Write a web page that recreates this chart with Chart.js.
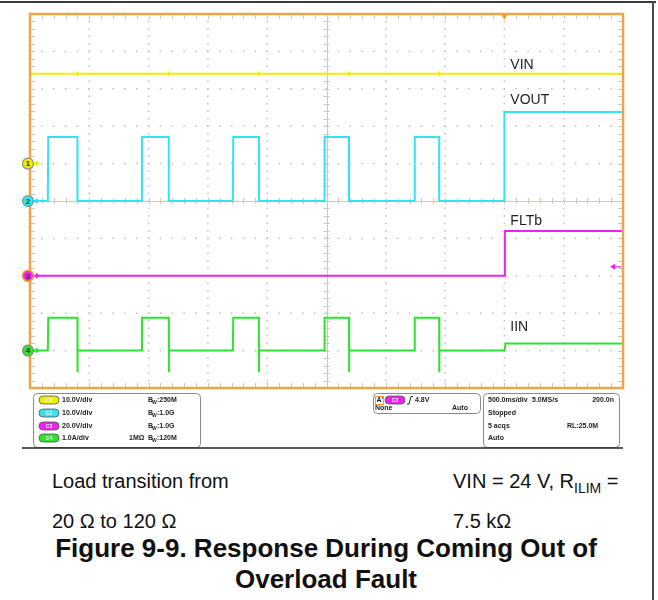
<!DOCTYPE html>
<html>
<head>
<meta charset="utf-8">
<title>Response During Coming Out of Overload Fault</title>
<script src="https://cdn.jsdelivr.net/npm/chart.js@4.4.0/dist/chart.umd.min.js"></script>
<style>
    body { margin: 0; background: #fff; font-family: "Liberation Sans", Arial, sans-serif; }
    #page { position: relative; width: 658px; height: 600px; overflow: hidden; }
    #scopeWrap { position: absolute; left: 0; top: 0; width: 658px; height: 452px; }
    #topLine { position: absolute; left: 0; top: 1px; width: 656px; height: 2px; background: #3a3a3a; }
    #rightLine { position: absolute; left: 652px; top: 1px; width: 2px; height: 599px; background: #4a4a4a; }
    .note { position: absolute; font-size: 20px; line-height: 24px; color: #111; white-space: nowrap; }
    .note sub { font-size: 14px; vertical-align: -5px; line-height: 0; }
    .title { position: absolute; left: 0; width: 652px; text-align: center; font-weight: bold;
             font-size: 26px; line-height: 31px; color: #111; }
</style>
</head>
<body>
<div id="page">
    <div id="scopeWrap"><canvas id="scopeChart"></canvas></div>
    <div id="topLine"></div>
    <div id="rightLine"></div>
    <div class="note" style="left:52px; top:469px;">Load transition from</div>
    <div class="note" style="left:52px; top:509px;">20 Ω to 120 Ω</div>
    <div class="note" style="left:453px; top:469px;">VIN = 24 V, R<sub>ILIM</sub> =</div>
    <div class="note" style="left:453px; top:509px;">7.5 kΩ</div>
    <div class="title" style="top:533px;">Figure 9-9. Response During Coming Out of<br>Overload Fault</div>
</div>
<script>
// Time axis: seconds relative to the trigger, 500 ms/div over 10 divisions
const timeRange = [-4.0, 1.0];
const timePerDiv = 0.5;

// Hiccup pulses while the output is still overloaded, then recovery at t = 0
const pulseRise = [-3.85, -3.06, -2.29, -1.52, -0.76];
const pulseFall = [-3.60, -2.83, -2.07, -1.31, -0.55];
const recoveryTime = 0.0;

// Levels in channel units
const vinLevel = [24.0, 0.6];            // V: steady, glitch size at each turn-off
const voutLevel = [0, 17.1, 23.8];       // V: off, during pulse, recovered
const fltLevel = [0, 24.0];              // V: fault asserted, released
const iinLevel = [0, 0.88, 0.19, -0.58]; // A: off, pulse, recovered, turn-off undershoot

// Channel setup (C1..C4)
const channelNames = ['VIN', 'VOUT', 'FLTb', 'IIN'];
const channelScale = [10, 10, 20, 1];    // units per division
const channelOffset = [1, 0, -2, -4];    // ground marker, divisions from center
const channelColors = ['#eeee00', '#33e3ee', '#f020f0', '#2fe22f'];
const channelBadges = ['C1', 'C2', 'C3', 'C4'];
const labelDiv = [3.64, 2.70, -0.53, -3.37]; // vertical spot of each trace name

// Trigger: C3 rising edge at 4.8 V
const triggerLevel = 4.8;

function toDiv(ch, v) {
    return channelOffset[ch] + v / channelScale[ch];
}

function vinTrace() {
    const pts = [{ x: timeRange[0], y: toDiv(0, vinLevel[0]) }];
    pulseFall.forEach(t => {
        pts.push({ x: t, y: toDiv(0, vinLevel[0]) });
        pts.push({ x: t, y: toDiv(0, vinLevel[0] + vinLevel[1]) });
        pts.push({ x: t, y: toDiv(0, vinLevel[0] - vinLevel[1]) });
        pts.push({ x: t, y: toDiv(0, vinLevel[0]) });
    });
    pts.push({ x: timeRange[1], y: toDiv(0, vinLevel[0]) });
    return pts;
}

function voutTrace() {
    const pts = [{ x: timeRange[0], y: toDiv(1, voutLevel[0]) }];
    pulseRise.forEach((t, i) => {
        pts.push({ x: t, y: toDiv(1, voutLevel[0]) });
        pts.push({ x: t + 0.004, y: toDiv(1, voutLevel[1]) });
        pts.push({ x: pulseFall[i], y: toDiv(1, voutLevel[1]) });
        pts.push({ x: pulseFall[i], y: toDiv(1, voutLevel[0]) });
    });
    pts.push({ x: recoveryTime, y: toDiv(1, voutLevel[0]) });
    pts.push({ x: recoveryTime, y: toDiv(1, voutLevel[2]) });
    pts.push({ x: timeRange[1], y: toDiv(1, voutLevel[2]) });
    return pts;
}

function fltTrace() {
    return [
        { x: timeRange[0], y: toDiv(2, fltLevel[0]) },
        { x: recoveryTime, y: toDiv(2, fltLevel[0]) },
        { x: recoveryTime + 0.004, y: toDiv(2, fltLevel[1]) },
        { x: timeRange[1], y: toDiv(2, fltLevel[1]) }
    ];
}

function iinTrace() {
    const pts = [{ x: timeRange[0], y: toDiv(3, iinLevel[0]) }];
    pulseRise.forEach((t, i) => {
        pts.push({ x: t, y: toDiv(3, iinLevel[0]) });
        pts.push({ x: t + 0.004, y: toDiv(3, iinLevel[1]) });
        pts.push({ x: pulseFall[i], y: toDiv(3, iinLevel[1]) });
        pts.push({ x: pulseFall[i], y: toDiv(3, iinLevel[3]) });
        pts.push({ x: pulseFall[i] + 0.002, y: toDiv(3, iinLevel[0]) });
    });
    pts.push({ x: recoveryTime, y: toDiv(3, iinLevel[0]) });
    pts.push({ x: recoveryTime + 0.01, y: toDiv(3, iinLevel[2]) });
    pts.push({ x: timeRange[1], y: toDiv(3, iinLevel[2]) });
    return pts;
}

// Tek-style graticule: dotted divisions, ticked center cross and ticked frame
const graticule = {
    id: 'graticule',
    beforeDatasetsDraw(chart) {
        const { ctx, chartArea: a, scales: { x, y } } = chart;
        const px = d => x.getPixelForValue(timeRange[0] + d * timePerDiv);
        const py = d => y.getPixelForValue(-5 + d);
        ctx.save();
        ctx.fillStyle = '#c4bdae';
        for (let d = 1; d < 10; d++) {
            if (d === 5) continue;
            for (let m = 1; m < 50; m++) {
                ctx.fillRect(px(d) - 0.75, py(m / 5) - 0.75, 1.5, 1.5);
                ctx.fillRect(px(m / 5) - 0.75, py(d) - 0.75, 1.5, 1.5);
            }
        }
        // center cross
        ctx.strokeStyle = '#cfc8ba';
        ctx.lineWidth = 1;
        ctx.beginPath();
        ctx.moveTo(a.left, Math.round(py(5)) + 0.5);
        ctx.lineTo(a.right, Math.round(py(5)) + 0.5);
        ctx.moveTo(Math.round(px(5)) + 0.5, a.top);
        ctx.lineTo(Math.round(px(5)) + 0.5, a.bottom);
        for (let m = 1; m < 50; m++) {
            const tx = Math.round(px(m / 5)) + 0.5;
            const ty = Math.round(py(m / 5)) + 0.5;
            ctx.moveTo(tx, py(5) - 3); ctx.lineTo(tx, py(5) + 3);
            ctx.moveTo(px(5) - 3, ty); ctx.lineTo(px(5) + 3, ty);
            // frame ticks
            ctx.moveTo(tx, a.top); ctx.lineTo(tx, a.top + 5);
            ctx.moveTo(tx, a.bottom); ctx.lineTo(tx, a.bottom - 5);
            ctx.moveTo(a.left, ty); ctx.lineTo(a.left + 5, ty);
            ctx.moveTo(a.right, ty); ctx.lineTo(a.right - 5, ty);
        }
        ctx.stroke();
        ctx.restore();
    },
    afterDatasetsDraw(chart) {
        const { ctx, chartArea: a, scales: { x, y } } = chart;
        ctx.save();
        // orange frame
        ctx.strokeStyle = '#eca548';
        ctx.lineWidth = 2.5;
        ctx.strokeRect(a.left, a.top, a.right - a.left, a.bottom - a.top);

        // trace names
        ctx.fillStyle = '#1e1e1e';
        ctx.font = '14px "Liberation Sans", Arial, sans-serif';
        ctx.textBaseline = 'middle';
        channelNames.forEach((name, i) => {
            ctx.fillText(name, x.getPixelForValue(recoveryTime + 0.05), y.getPixelForValue(labelDiv[i]));
        });

        // ground markers on the left edge
        channelNames.forEach((name, i) => {
            const cy = y.getPixelForValue(channelOffset[i]);
            const cx = a.left - 2;
            ctx.fillStyle = channelColors[i];
            ctx.strokeStyle = channelColors[i];
            ctx.lineWidth = 1.5;
            ctx.beginPath();
            ctx.moveTo(cx + 5, cy);
            ctx.lineTo(cx + 9, cy);
            ctx.stroke();
            ctx.beginPath();
            ctx.moveTo(cx + 12, cy);
            ctx.lineTo(cx + 8, cy - 3);
            ctx.lineTo(cx + 8, cy + 3);
            ctx.closePath();
            ctx.fill();
            ctx.beginPath();
            ctx.arc(cx, cy, 5.5, 0, Math.PI * 2);
            ctx.fill();
            ctx.lineWidth = i === 2 ? 1.6 : 1.1;
            ctx.strokeStyle = i === 2 ? '#f0a030' : '#8c8c8c';
            ctx.stroke();
            ctx.fillStyle = '#333';
            ctx.font = 'bold 8px "Liberation Sans", Arial, sans-serif';
            ctx.textAlign = 'center';
            ctx.fillText(String(i + 1), cx, cy + 0.5);
            ctx.textAlign = 'left';
        });

        // trigger position marker
        const tx = x.getPixelForValue(recoveryTime);
        ctx.fillStyle = '#f0a030';
        ctx.beginPath();
        ctx.moveTo(tx - 3.5, a.top);
        ctx.lineTo(tx + 3.5, a.top);
        ctx.lineTo(tx, a.top + 6);
        ctx.closePath();
        ctx.fill();

        // trigger level marker on the right edge
        const ly = y.getPixelForValue(toDiv(2, triggerLevel));
        ctx.strokeStyle = channelColors[2];
        ctx.fillStyle = channelColors[2];
        ctx.lineWidth = 1.2;
        ctx.beginPath();
        ctx.moveTo(a.right - 2, ly);
        ctx.lineTo(a.right - 9, ly);
        ctx.stroke();
        ctx.beginPath();
        ctx.moveTo(a.right - 13, ly);
        ctx.lineTo(a.right - 8, ly - 3);
        ctx.lineTo(a.right - 8, ly + 3);
        ctx.closePath();
        ctx.fill();
        ctx.restore();
    }
};

// Readout strip under the graticule
function badge(ctx, x, y, label, color) {
    ctx.save();
    ctx.fillStyle = color;
    ctx.strokeStyle = '#555';
    ctx.lineWidth = 0.8;
    ctx.beginPath();
    ctx.roundRect(x, y - 4, 20, 8, 4);
    ctx.fill();
    ctx.stroke();
    ctx.fillStyle = '#fff';
    ctx.font = 'bold 5px "Liberation Sans", Arial, sans-serif';
    ctx.textAlign = 'center';
    ctx.fillText(label, x + 10, y + 0.5);
    ctx.restore();
}

function bwText(ctx, x, y, value) {
    ctx.fillText('B', x, y);
    ctx.font = 'bold 5px "Liberation Sans", Arial, sans-serif';
    ctx.fillText('W', x + 4, y + 2.5);
    ctx.font = 'bold 7px "Liberation Sans", Arial, sans-serif';
    ctx.fillText(':' + value, x + 9, y);
}

const readout = {
    id: 'readout',
    afterDraw(chart) {
        const ctx = chart.ctx;
        ctx.save();
        ctx.strokeStyle = '#8a8a8a';
        ctx.lineWidth = 1;
        ctx.beginPath();
        ctx.roundRect(33.5, 393.5, 167, 54, 4);
        ctx.roundRect(373.5, 393.5, 107, 20, 4);
        ctx.roundRect(483.5, 393.5, 136, 54, 4);
        ctx.stroke();

        ctx.strokeStyle = '#222';
        ctx.lineWidth = 1.5;
        ctx.beginPath();
        ctx.moveTo(22, 448);
        ctx.lineTo(623, 448);
        ctx.stroke();

        ctx.fillStyle = '#222';
        ctx.font = 'bold 7px "Liberation Sans", Arial, sans-serif';
        ctx.textBaseline = 'middle';
        const rows = [400, 413, 426, 438];
        const perDiv = ['10.0V/div', '10.0V/div', '20.0V/div', '1.0A/div'];
        const bw = ['250M', '1.0G', '1.0G', '120M'];
        rows.forEach((ry, i) => {
            badge(ctx, 39, ry, channelBadges[i], channelColors[i]);
            ctx.fillStyle = '#222';
            ctx.fillText(perDiv[i], 62, ry);
            bwText(ctx, 148, ry, bw[i]);
        });
        ctx.fillText('1MΩ', 129, rows[3]);

        // trigger box
        ctx.strokeStyle = '#f0a030';
        ctx.lineWidth = 1;
        ctx.strokeRect(375.5, 396.5, 8, 8);
        ctx.fillText("A'", 376.5, 400.5);
        badge(ctx, 385, 400, channelBadges[2], channelColors[2]);
        ctx.strokeStyle = '#222';
        ctx.beginPath();
        ctx.moveTo(407, 404);
        ctx.lineTo(409, 404);
        ctx.lineTo(411, 396.5);
        ctx.lineTo(413, 396.5);
        ctx.stroke();
        ctx.fillText(triggerLevel.toFixed(1) + 'V', 415, 400);
        ctx.fillText('None', 375, 408);
        ctx.fillText('Auto', 452, 408);

        // timebase box
        ctx.fillText('500.0ms/div', 488, rows[0]);
        ctx.fillText('5.0MS/s', 532, rows[0]);
        ctx.fillText('Stopped', 488, rows[1]);
        ctx.fillText('5 acqs', 488, rows[2]);
        ctx.fillText('RL:25.0M', 567, rows[2]);
        ctx.fillText('Auto', 488, rows[3]);
        ctx.textAlign = 'right';
        ctx.fillText('200.0n', 614, rows[0]);
        ctx.restore();
    }
};

document.addEventListener('DOMContentLoaded', function() {
    const traces = [vinTrace(), voutTrace(), fltTrace(), iinTrace()];
    const ctx = document.getElementById('scopeChart').getContext('2d');
    new Chart(ctx, {
        type: 'line',
        data: {
            datasets: traces.map((pts, i) => ({
                label: channelNames[i],
                data: pts,
                borderColor: channelColors[i],
                borderWidth: 2,
                pointRadius: 0,
                tension: 0,
                fill: false
            }))
        },
        options: {
            animation: false,
            responsive: true,
            maintainAspectRatio: false,
            layout: { padding: { left: 30, top: 14, right: 35, bottom: 64 } },
            scales: {
                x: { type: 'linear', min: timeRange[0], max: timeRange[1], display: false },
                y: { min: -5, max: 5, display: false }
            },
            plugins: {
                legend: { display: false },
                tooltip: { enabled: false }
            }
        },
        plugins: [graticule, readout]
    });
});
</script>
</body>
</html>
